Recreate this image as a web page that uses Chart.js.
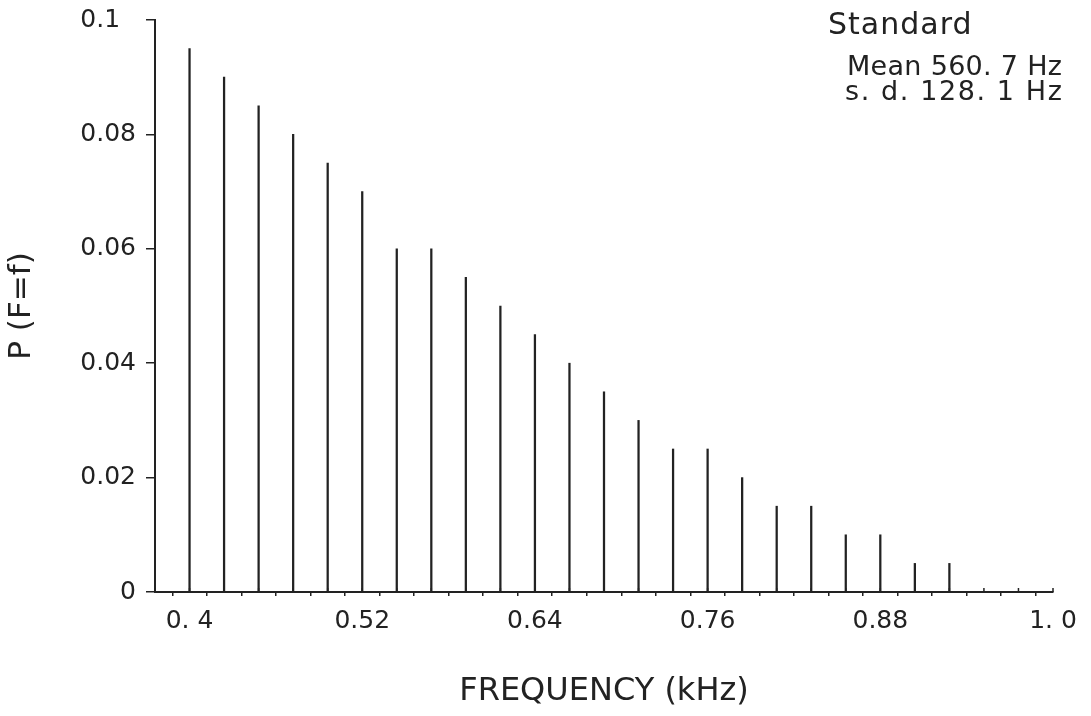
<!DOCTYPE html>
<html>
<head>
<meta charset="utf-8">
<script src="https://cdn.jsdelivr.net/npm/chart.js@4"></script>
<style>
  html, body { margin: 0; padding: 0; background: #fff; }
  #c { display: block; }
</style>
</head>
<body>
<canvas id="c" width="1091" height="716"></canvas>
<script>
// ---- data ----
const frequencies = [0.400, 0.424, 0.448, 0.472, 0.496, 0.520, 0.544, 0.568, 0.592, 0.616, 0.640, 0.664,
                     0.688, 0.712, 0.736, 0.760, 0.784, 0.808, 0.832, 0.856, 0.880, 0.904, 0.928];
const probabilities = [0.095, 0.090, 0.085, 0.080, 0.075, 0.070, 0.060, 0.060, 0.055, 0.050, 0.045, 0.040,
                       0.035, 0.030, 0.025, 0.025, 0.020, 0.015, 0.015, 0.010, 0.010, 0.005, 0.005];

const xMin = 0.376, xMax = 1.0, xTickStep = 0.024;
const xLabelValues = [0.4, 0.52, 0.64, 0.76, 0.88, 1.0];
const xLabelTexts  = ['0. 4', '0.52', '0.64', '0.76', '0.88', '1. 0'];
const yTickValues  = [0, 0.02, 0.04, 0.06, 0.08, 0.1];
const yTickTexts   = ['0', '0.02', '0.04', '0.06', '0.08', '0.1\u2007'];

const annotationTitle = 'Standard';
const annotationLines = ['Mean 560. 7 Hz', 's. d. 128. 1 Hz'];

const INK = '#222';
const FONT = "'DejaVu Sans', sans-serif";

function labelFor(values, texts, v) {
  for (let i = 0; i < values.length; i++) {
    if (Math.abs(values[i] - v) < 1e-6) return texts[i];
  }
  return '';
}

const innerTicks = {
  id: 'innerTicks',
  afterDraw(chart) {
    const ctx = chart.ctx;
    const xs = chart.scales.x;
    const y0 = chart.chartArea.bottom;
    ctx.save();
    ctx.strokeStyle = INK;
    ctx.lineWidth = 1.5;
    xs.ticks.forEach(t => {
      const px = xs.getPixelForValue(t.value);
      ctx.beginPath();
      ctx.moveTo(px, y0);
      ctx.lineTo(px, y0 - 4);
      ctx.stroke();
    });
    ctx.restore();
  }
};

const annotation = {
  id: 'annotation',
  afterDraw(chart) {
    const ctx = chart.ctx;
    ctx.save();
    ctx.fillStyle = INK;
    ctx.textBaseline = 'alphabetic';
    ctx.textAlign = 'left';
    ctx.font = "30px " + FONT;
    ctx.letterSpacing = '1px';
    ctx.fillText(annotationTitle, 828, 34);
    ctx.font = "27px " + FONT;
    ctx.letterSpacing = '0.3px';
    ctx.fillText(annotationLines[0], 847, 75);
    ctx.letterSpacing = '1.6px';
    ctx.fillText(annotationLines[1], 845, 100);
    ctx.restore();
  }
};

new Chart(document.getElementById('c'), {
  type: 'bar',
  data: {
    datasets: [{
      data: frequencies.map((f, i) => ({ x: f, y: probabilities[i] })),
      backgroundColor: INK,
      borderWidth: 0,
      barThickness: 1.6
    }]
  },
  options: {
    responsive: false,
    devicePixelRatio: 1,
    animation: false,
    layout: { padding: { top: 20, right: 38, bottom: 0, left: 0 } },
    plugins: { legend: { display: false }, tooltip: { enabled: false } },
    scales: {
      x: {
        type: 'linear',
        min: xMin,
        max: xMax,
        offset: false,
        afterBuildTicks(scale) {
          const ticks = [];
          const n = Math.round((xMax - xMin) / xTickStep);
          for (let k = 0; k <= n; k++) ticks.push({ value: Math.round((xMin + k * xTickStep) * 1000) / 1000 });
          scale.ticks = ticks;
        },
        afterFit(scale) { scale.height = 124; scale.paddingLeft = 0; scale.paddingRight = 0; },
        grid: { drawOnChartArea: false, drawTicks: true, tickLength: 4, color: INK, lineWidth: 1.5 },
        border: { display: true, color: INK, width: 2 },
        ticks: {
          autoSkip: false, maxRotation: 0, minRotation: 0, padding: 10,
          color: INK, font: { family: FONT, size: 25 },
          callback: (v) => labelFor(xLabelValues, xLabelTexts, v)
        },
        title: {
          display: true, text: 'FREQUENCY (kHz)', color: INK,
          font: { family: FONT, size: 32 }, padding: { top: 0, bottom: 5 }
        }
      },
      y: {
        min: 0,
        max: 0.1,
        afterBuildTicks(scale) { scale.ticks = yTickValues.map(v => ({ value: v })); },
        afterFit(scale) { scale.width = 155; scale.paddingTop = 0; scale.paddingBottom = 0; },
        grid: { drawOnChartArea: false, drawTicks: true, tickLength: 9, color: INK, lineWidth: 1.5 },
        border: { display: true, color: INK, width: 2 },
        ticks: {
          padding: 10, color: INK, font: { family: FONT, size: 25 },
          callback: (v) => labelFor(yTickValues, yTickTexts, v)
        },
        title: {
          display: true, text: 'P (F=f)', color: INK,
          font: { family: FONT, size: 31 }, padding: { top: 3, bottom: 0 }
        }
      }
    }
  },
  plugins: [innerTicks, annotation]
});
</script>
</body>
</html>
